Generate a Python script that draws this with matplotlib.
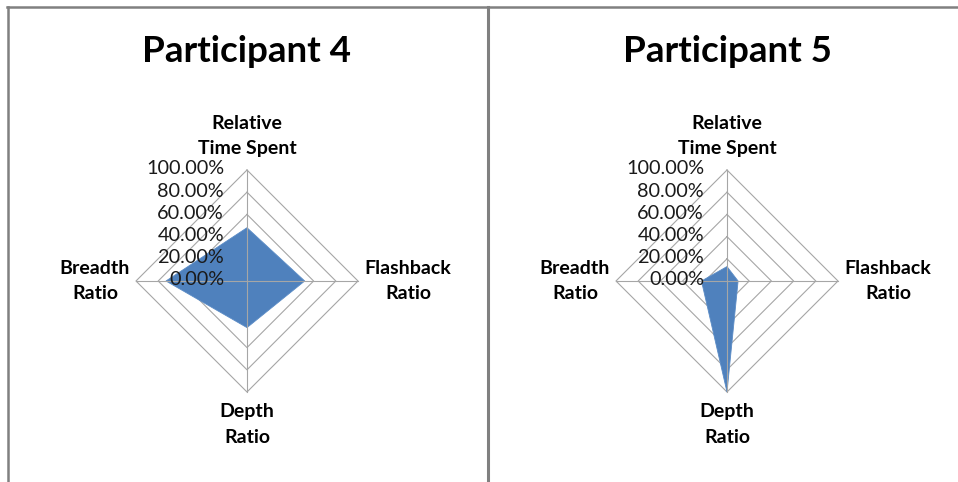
import numpy as np
import matplotlib.pyplot as plt
from matplotlib.lines import Line2D

# Data
categories = ['Relative\nTime Spent', 'Flashback\nRatio', 'Depth\nRatio', 'Breadth\nRatio']
titles = ['Participant 4', 'Participant 5']
p4_values = [0.48, 0.52, 0.42, 0.73]
p5_values = [0.13, 0.10, 1.00, 0.23]
tick_values = [0.0, 0.2, 0.4, 0.6, 0.8, 1.0]
tick_labels = ['0.00%', '20.00%', '40.00%', '60.00%', '80.00%', '100.00%']

plt.rcParams['font.family'] = ['Lato', 'DejaVu Sans']

W, H = 958, 482
fig = plt.figure(figsize=(W / 100, H / 100), dpi=100)
fig.patch.set_facecolor('white')

R = 111.0          # radius of the 100% ring in pixels
cy = 281           # centre of the radar (pixels from top)
panels = [(0, 487, 247), (487, 958, 727)]   # x0, x1, centre x

angles = np.arange(len(categories)) * np.pi / 2   # clockwise from top
label_offsets = [1.306, 1.45, 1.293, 1.369]

grid_color = '#A6A6A6'
fill_color = '#4F81BD'

for (x0, x1, cx), title, values in zip(panels, titles, [p4_values, p5_values]):
    ax = fig.add_axes([x0 / W, 0, (x1 - x0) / W, 1])
    ax.set_xlim((x0 - cx) / R, (x1 - cx) / R)
    ax.set_ylim((cy - H) / R, cy / R)
    ax.axis('off')

    sx, sy = np.sin(angles), np.cos(angles)

    # rings
    for t in tick_values[1:]:
        ax.plot(np.append(sx, sx[0]) * t, np.append(sy, sy[0]) * t,
                color=grid_color, lw=0.8, zorder=1)

    # series
    v = np.array(values)
    ax.fill(sx * v, sy * v, facecolor=fill_color, edgecolor='#5B8CC6',
            lw=0.6, zorder=2)

    # spokes
    for a, b in zip(sx, sy):
        ax.plot([0, a], [0, b], color=grid_color, lw=0.8, zorder=3)

    # value axis labels
    for t, lab in zip(tick_values, tick_labels):
        ax.text(-0.207, t + 0.01, lab, ha='right', va='center',
                fontsize=14.3, color='#1A1A1A', zorder=4)

    # category labels
    for a, b, off, cat in zip(sx, sy, label_offsets, categories):
        ax.text(a * off, b * off, cat, ha='center', va='center',
                fontsize=14, fontweight='bold', linespacing=1.6, zorder=4)

    ax.text(0, (cy - 62) / R, title, ha='center', va='baseline',
            fontsize=26.5, fontweight='bold')

# chart borders
border = dict(color='#808080', transform=fig.transFigure)
fig.add_artist(Line2D([7 / W, 1], [1 - 7 / H, 1 - 7 / H], lw=1.8, **border))
fig.add_artist(Line2D([8 / W, 8 / W], [1 - 7 / H, 0], lw=1.8, **border))
fig.add_artist(Line2D([487.5 / W, 487.5 / W], [1 - 7 / H, 0], lw=2.2, **border))

fig.savefig('out.png', dpi=100)
